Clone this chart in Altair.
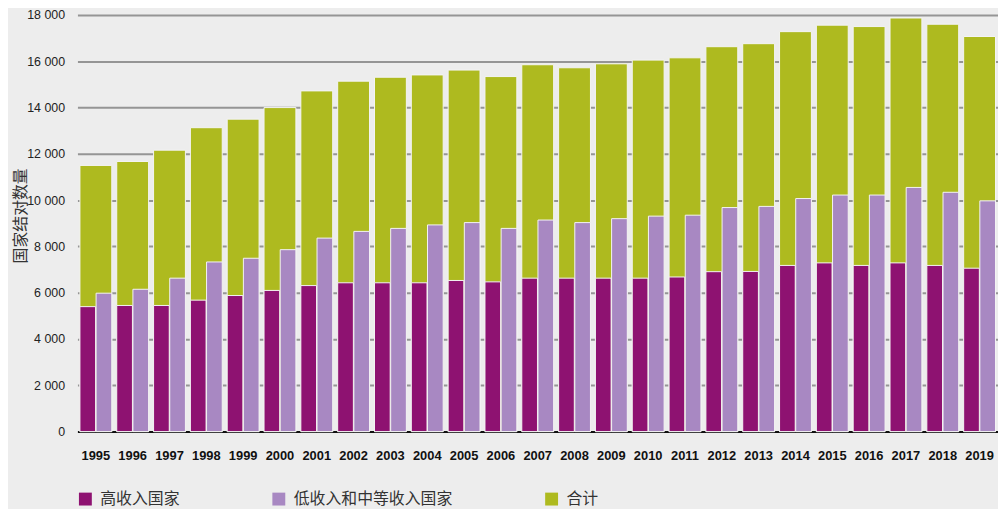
import altair as alt
import pandas as pd

years = [str(y) for y in range(1995, 2020)]
high_income = [5400, 5450, 5450, 5680, 5880, 6100, 6310, 6430, 6430, 6430, 6530, 6470, 6630,
               6630, 6630, 6630, 6680, 6910, 6920, 7180, 7290, 7180, 7290, 7180, 7060]
low_middle = [5980, 6150, 6630, 7330, 7490, 7860, 8360, 8650, 8780, 8930, 9030, 8780, 9140,
              9030, 9200, 9310, 9350, 9680, 9730, 10070, 10220, 10220, 10550, 10340, 9970]
total = [11500, 11670, 12160, 13130, 13500, 14000, 14720, 15140, 15310, 15410, 15620, 15340, 15850,
         15720, 15890, 16050, 16150, 16630, 16760, 17280, 17560, 17500, 17870, 17600, 17070]

S_HIGH = "高收入国家"
S_LOW = "低收入和中等收入国家"
S_TOT = "合计"
series_order = [S_HIGH, S_LOW, S_TOT]
colors = ["#8e1271", "#a888c2", "#aeba1f"]

df_tot = pd.DataFrame({"year": years, "value": total, "series": S_TOT})
df_parts = pd.concat([
    pd.DataFrame({"year": years, "value": high_income, "series": S_HIGH}),
    pd.DataFrame({"year": years, "value": low_middle, "series": S_LOW}),
])

NUM_FONT = "Liberation Sans, Arial, sans-serif"
CJK_FONT = "Noto Sans CJK SC"

x_enc = alt.X(
    "year:N", sort=years, title=None,
    scale=alt.Scale(paddingInner=0.135, paddingOuter=0.0675),
    axis=alt.Axis(labelAngle=0, ticks=False, labelPadding=18, labelFont=NUM_FONT,
                  labelFontSize=13, labelFontWeight="bold", labelColor="#111",
                  domainColor="#111", domainWidth=2, grid=False),
)
y_enc = alt.Y(
    "value:Q", title="国家结对数量",
    scale=alt.Scale(domain=[0, 18000], nice=False),
    axis=alt.Axis(values=list(range(0, 18001, 2000)), domain=False, ticks=False,
                  labelPadding=13, labelFont=NUM_FONT, labelFontSize=12.5, labelColor="#222",
                  labelExpr="replace(format(datum.value, ','), ',', ' ')",
                  gridColor="#959595", gridWidth=2,
                  titleFont=CJK_FONT, titleFontSize=16, titleFontWeight="normal",
                  titleColor="#333", titleAngle=270, titleX=-57, titleY=202,
                  titleAlign="center", titleBaseline="middle"),
)
color_enc = alt.Color(
    "series:N",
    scale=alt.Scale(domain=series_order, range=colors),
    legend=alt.Legend(title=None, orient="none", legendX=0, legendY=480,
                      direction="horizontal", columnPadding=91, symbolType="square",
                      symbolSize=169, symbolStrokeWidth=0, labelOffset=7, labelLimit=300,
                      labelFont=CJK_FONT, labelFontSize=16, labelColor="#333"),
)

base_tot = alt.Chart(df_tot).mark_bar(stroke="#f4f4f4", strokeWidth=1).encode(
    x=x_enc, y=y_enc, color=color_enc
)
parts = alt.Chart(df_parts).mark_bar(stroke="#f4f4f4", strokeWidth=1).encode(
    x=x_enc, y=y_enc, color=color_enc,
    xOffset=alt.XOffset("series:N", sort=[S_HIGH, S_LOW],
                        scale=alt.Scale(domain=[S_HIGH, S_LOW], paddingInner=0.03, paddingOuter=0)),
)

chart = alt.layer(base_tot, parts).properties(
    width=928, height=420,
    autosize=alt.AutoSizeParams(type="none"),
    padding={"left": 70, "top": 5, "right": 0, "bottom": 80},
    background="#ededed",
).configure_view(stroke=None)

chart.save("out.html", embed_options={"renderer": "svg", "actions": False})
